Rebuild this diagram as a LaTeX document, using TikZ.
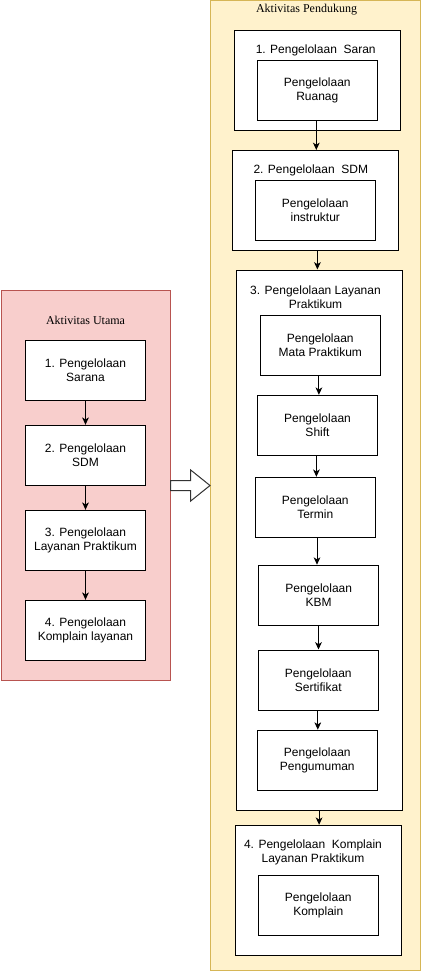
\documentclass[tikz,border=0pt]{standalone}
\usepackage{fontspec}
\setmainfont{Liberation Serif}
\newfontfamily\arialf{Liberation Sans}
\usetikzlibrary{arrows.meta,calc}
\definecolor{redfill}{HTML}{F8CECC}
\definecolor{redline}{HTML}{B85450}
\definecolor{yelfill}{HTML}{FFF2CC}
\definecolor{yelline}{HTML}{D6B656}
\tikzset{
  bx/.style 2 args={draw=black, fill=white, line width=0.75pt, inner sep=0pt,
    minimum width={#1*0.75pt}, minimum height={#2*0.75pt}, align=center,
    font=\arialf\fontsize{9}{10.8}\selectfont},
  ttl/.style={inner sep=0pt, align=center, font=\arialf\fontsize{9}{10.8}\selectfont},
  grp/.style={font=\fontsize{9}{10.8}\selectfont, inner sep=0pt},
  arr/.style={line width=0.75pt, -{Stealth[length=5.5pt,width=5pt,inset=1.5pt]}}
}
\newcommand\conn[2]{\coordinate (m#1) at ($(#1.south)!0.5!(#2.north)$);
  \draw[arr] (#1.south -| m#1) -- (#2.north -| m#1);}
\begin{document}
\begin{tikzpicture}[x=0.75pt,y=-0.75pt]
\useasboundingbox (0,0) rectangle (421,971);
% containers
\node[draw=redline, fill=redfill, line width=0.75pt, minimum width={169.7*0.75pt}, minimum height={390.3*0.75pt}, inner sep=0pt] (utama) at (85.85,485.15) {};
\node[draw=yelline, fill=yelfill, line width=0.75pt, minimum width={210*0.75pt}, minimum height={969.5*0.75pt}, inner sep=0pt] (pend) at (315.5,485.25) {};
\node[grp] (tutama) at (85.5,320) {Aktivitas Utama};
\node[grp] (tpend) at (306.5,10) {Aktivitas Pendukung};
% left boxes
\node[bx={120}{60}] (l1) at (85.5,370.3) {1. Pengelolaan\\Sarana};
\node[bx={120}{60}] (l2) at (85.5,455.3) {2. Pengelolaan\\SDM};
\node[bx={120}{60}] (l3) at (85.5,540.3) {3. Pengelolaan\\Layanan Praktikum};
\node[bx={120}{60}] (l4) at (85.5,630.3) {4. Pengelolaan\\Komplain layanan};
\conn{l1}{l2}
\conn{l2}{l3}
\conn{l3}{l4}
% block arrow
\draw[line width=0.75pt, fill=white, draw=black!80] (170.7,480.5) -- (190.7,480.5) -- (190.7,470) -- (210,485.5) -- (190.7,501) -- (190.7,490.5) -- (170.7,490.5) -- cycle;
% right side
\node[bx={166}{100}] (s1) at (317.3,80.5) {};
\node[ttl] (s1t) at (315.7,50.7) {1. Pengelolaan~ Saran};
\node[bx={120}{60}] (s1i) at (317.3,90.5) {Pengelolaan\\Ruanag};
\node[bx={166}{100}] (s2) at (315.3,200.5) {};
\node[ttl] (s2t) at (310.8,170.7) {2. Pengelolaan~ SDM};
\node[bx={120}{60}] (s2i) at (315.3,210.3) {Pengelolaan\\instruktur};
\conn{s1i}{s2}
\node[bx={166}{540}] (s3) at (319.5,540) {};
\conn{s2}{s3}
\node[ttl] (s3t) at (315.5,297.3) {3. Pengelolaan Layanan\\Praktikum};
\node[bx={120}{60}] (mata) at (320.3,345.5) {Pengelolaan\\Mata Praktikum};
\node[bx={120}{60}] (shift) at (317.5,425.3) {Pengelolaan\\Shift};
\node[bx={120}{60}] (termin) at (315.3,507.3) {Pengelolaan\\Termin};
\node[bx={120}{60}] (kbm) at (318.7,595.2) {Pengelolaan\\KBM};
\node[bx={120}{60}] (sert) at (318.3,680) {Pengelolaan\\Sertifikat};
\node[bx={120}{60}] (peng) at (317.3,760.2) {Pengelolaan\\Pengumuman};
\conn{mata}{shift}
\conn{shift}{termin}
\conn{termin}{kbm}
\conn{kbm}{sert}
\conn{sert}{peng}
\node[bx={166}{130}] (s4) at (318.7,890.3) {};
\conn{s3}{s4}
\node[ttl] (s4t) at (313,852.5) {4. Pengelolaan~ Komplain\\Layanan Praktikum};
\node[bx={120}{60}] (s4i) at (318.3,905.2) {Pengelolaan\\Komplain};
\end{tikzpicture}
\end{document}
